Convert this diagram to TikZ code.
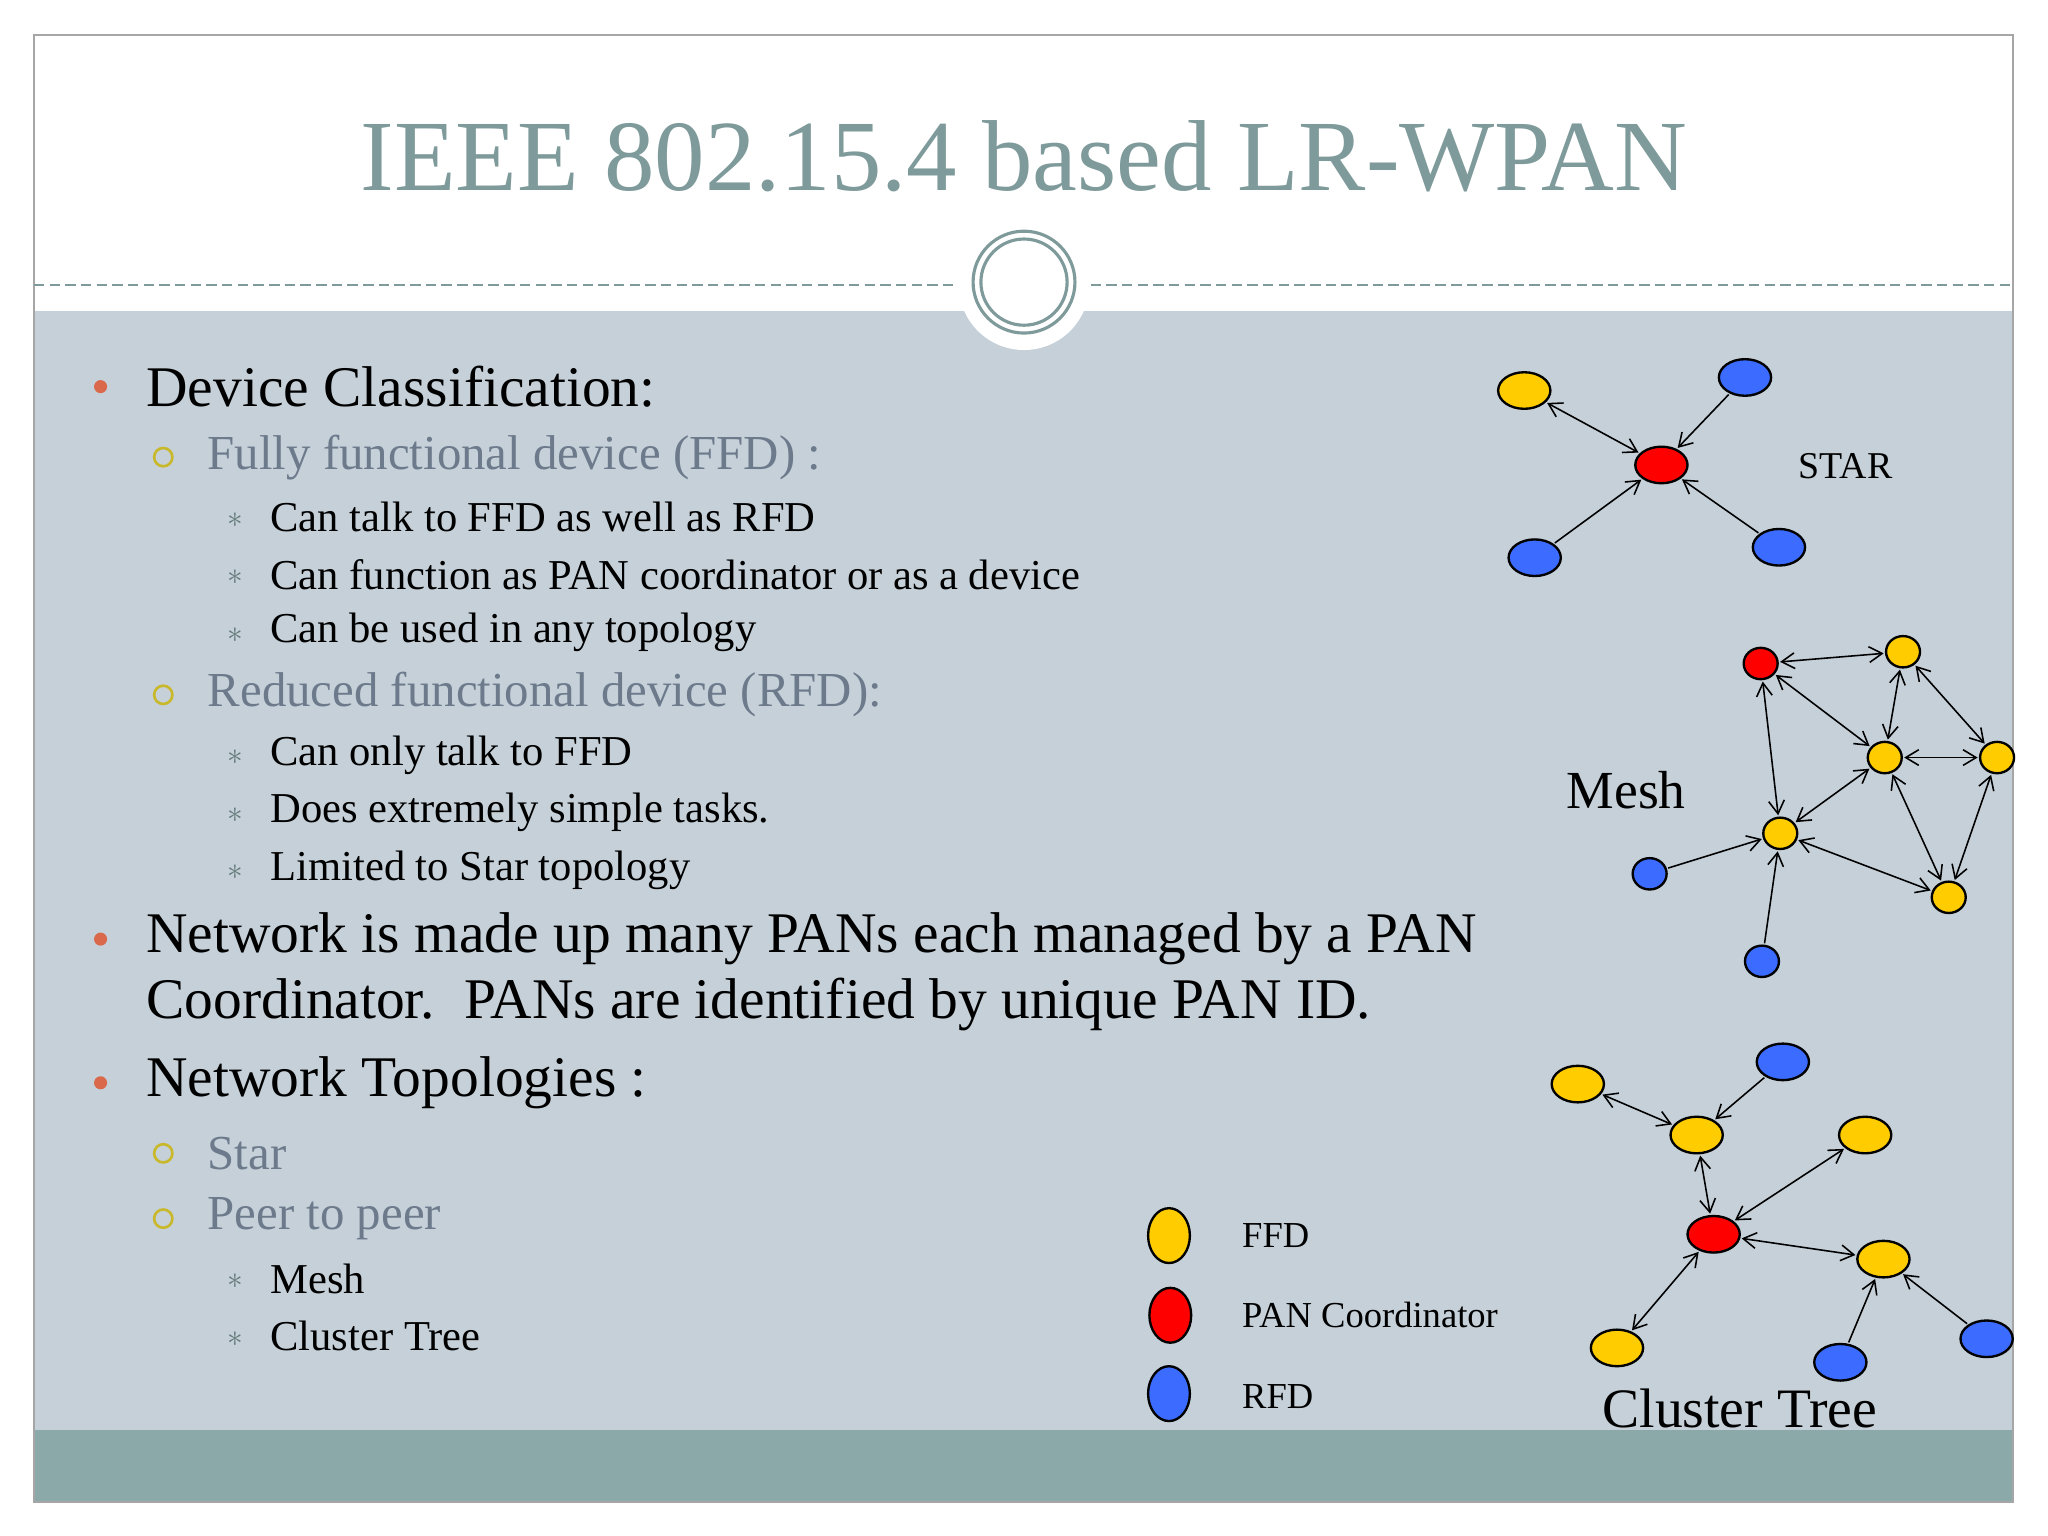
\documentclass[tikz,border=0pt]{standalone}
\usepackage{fontspec}
\setmainfont{Liberation Serif}
\usetikzlibrary{arrows.meta,positioning}
\definecolor{slidegray}{HTML}{C5D0D8}
\definecolor{bandteal}{HTML}{8BA9A9}
\definecolor{titleteal}{HTML}{7F9A9A}
\definecolor{subgray}{HTML}{6C7A8C}
\definecolor{ffdyel}{HTML}{FFCC00}
\definecolor{pancol}{HTML}{FF0000}
\definecolor{rfdblue}{HTML}{3B6BFF}
\definecolor{dotor}{HTML}{D9694A}
\definecolor{ringol}{HTML}{C8B82A}
\tikzset{
  dev/.style={ellipse,draw=black,line width=0.9pt,minimum width=20pt,minimum height=14pt,inner sep=0pt},
  devs/.style={ellipse,draw=black,line width=0.9pt,minimum width=13pt,minimum height=12pt,inner sep=0pt},
  ffd/.style={fill=ffdyel},
  pan/.style={fill=pancol},
  rfd/.style={fill=rfdblue},
  lnk/.style={line width=0.6pt,shorten <=0.5pt,shorten >=0.5pt},
  to/.style={lnk,-{Straight Barb[length=5pt,width=6pt]}},
  both/.style={lnk,{Straight Barb[length=5pt,width=6pt]}-{Straight Barb[length=5pt,width=6pt]}},
  lvla/.style={anchor=west,font=\fontsize{22}{26}\selectfont},
  lvlb/.style={anchor=west,font=\fontsize{18.7}{22}\selectfont,text=subgray},
  lvlc/.style={anchor=west,font=\fontsize{16.3}{19}\selectfont},
}
\usetikzlibrary{shapes.geometric}
\begin{document}
\begin{tikzpicture}[x=0.5pt,y=-0.5pt]
\useasboundingbox (0,0) rectangle (1568,1176);
% slide frame
\fill[slidegray] (26,238) rectangle (1541,1095);
\fill[bandteal] (26,1095) rectangle (1541,1150);
\draw[gray!70,line width=0.8pt] (26,27) rectangle (1541,1150);
\draw[titleteal,dashed,line width=0.8pt,dash pattern=on 4pt off 2pt] (26,218) -- (730,218);
\draw[titleteal,dashed,line width=0.8pt,dash pattern=on 4pt off 2pt] (835,218) -- (1541,218);
\fill[white] (784,218) circle (50);
\draw[titleteal,line width=1.2pt] (784,216) circle (39);
\draw[titleteal,line width=1.2pt] (784,216) circle (33);
\node[text=titleteal,font=\fontsize{38.6}{42}\selectfont] (title) at (784,120) {IEEE 802.15.4 based LR-WPAN};

% bullets
\foreach \y in {296,719,829} \fill[dotor] (77,\y) circle (5);
\foreach \y in {350,532,883,933} \draw[ringol,line width=1pt] (125,\y) circle (7);
\foreach \y in {396,440,484,578,622,666,979,1023}
  \node[text=titleteal!80!black,font=\fontsize{12}{12}\selectfont] at (180,\y+2) {$\ast$};
\node[lvla] (t1) at (105,296) {Device Classification:};
\node[lvlb] (t2) at (152,350) {Fully functional device (FFD) :};
\node[lvlc] (t3) at (200,396) {Can talk to FFD as well as RFD};
\node[lvlc] (t4) at (200,440) {Can function as PAN coordinator or as a device};
\node[lvlc] (t5) at (200,484) {Can be used in any topology};
\node[lvlb] (t6) at (152,532) {Reduced functional device (RFD):};
\node[lvlc] (t7) at (200,578) {Can only talk to FFD};
\node[lvlc] (t8) at (200,622) {Does extremely simple tasks.};
\node[lvlc] (t9) at (200,666) {Limited to Star topology};
\node[lvla] (t10) at (105,719) {Network is made up many PANs each managed by a PAN};
\node[lvla] (t11) at (105,769) {Coordinator.\ \ PANs are identified by unique PAN ID.};
\node[lvla] (t12) at (105,829) {Network Topologies :};
\node[lvlb] (t13) at (152,883) {Star};
\node[lvlb] (t14) at (152,933) {Peer to peer};
\node[lvlc] (t15) at (200,979) {Mesh};
\node[lvlc] (t16) at (200,1023) {Cluster Tree};

% star
\node[dev,ffd] (sa) at (1167,299) {};
\node[dev,rfd] (sb) at (1336,289) {};
\node[dev,pan] (sc) at (1272,356) {};
\node[dev,rfd] (sd) at (1175,427) {};
\node[dev,rfd] (se) at (1362,419) {};
\node[font=\fontsize{14.5}{16}\selectfont] (star) at (1413,357) {STAR};
\draw[both] (sc) -- (sa);
\draw[to] (sb) -- (sc);
\draw[to] (sd) -- (sc);
\draw[to] (se) -- (sc);

% mesh
\node[devs,pan] (mr) at (1348,508) {};
\node[devs,ffd] (m1) at (1457,499) {};
\node[devs,ffd] (m2) at (1443,580) {};
\node[devs,ffd] (m3) at (1529,580) {};
\node[devs,ffd] (m4) at (1363,638) {};
\node[devs,ffd] (m5) at (1492,687) {};
\node[devs,rfd] (mb1) at (1263,669) {};
\node[devs,rfd] (mb2) at (1349,736) {};
\node[font=\fontsize{20.5}{24}\selectfont] (mesh) at (1245,605) {Mesh};
\draw[both] (mr) -- (m1);
\draw[both] (mr) -- (m2);
\draw[both] (mr) -- (m4);
\draw[both] (m1) -- (m2);
\draw[both] (m1) -- (m3);
\draw[both] (m2) -- (m3);
\draw[both] (m2) -- (m4);
\draw[both] (m2) -- (m5);
\draw[both] (m4) -- (m5);
\draw[both] (m3) -- (m5);
\draw[to] (mb1) -- (m4);
\draw[to] (mb2) -- (m4);

% cluster tree
\node[dev,ffd] (ca) at (1208,830) {};
\node[dev,rfd] (cb) at (1365,813) {};
\node[dev,ffd] (cd) at (1299,869) {};
\node[dev,ffd] (ce) at (1428,869) {};
\node[dev,pan] (cf) at (1312,945) {};
\node[dev,ffd] (cg) at (1442,964) {};
\node[dev,ffd] (ch) at (1238,1032) {};
\node[dev,rfd] (ci) at (1409,1043) {};
\node[dev,rfd] (cj) at (1521,1025) {};
\node[font=\fontsize{21.3}{24}\selectfont] (ctree) at (1332,1078) {Cluster Tree};
\draw[both] (cd) -- (ca);
\draw[to] (cb) -- (cd);
\draw[both] (cd) -- (cf);
\draw[both] (cf) -- (ce);
\draw[both] (cf) -- (cg);
\draw[both] (cf) -- (ch);
\draw[to] (ci) -- (cg);
\draw[to] (cj) -- (cg);

% legend
\node[dev,ffd,minimum width=16pt,minimum height=21pt] (lf) at (895,946) {};
\node[dev,pan,minimum width=16pt,minimum height=21pt] (lp) at (896,1007) {};
\node[dev,rfd,minimum width=16pt,minimum height=21pt] (lr) at (895,1067) {};
\node[anchor=west,font=\fontsize{14}{16}\selectfont] (lft) at (944,946) {FFD};
\node[anchor=west,font=\fontsize{14}{16}\selectfont] (lpt) at (944,1007) {PAN Coordinator};
\node[anchor=west,font=\fontsize{14}{16}\selectfont] (lrt) at (944,1069) {RFD};
\end{tikzpicture}
\end{document}
